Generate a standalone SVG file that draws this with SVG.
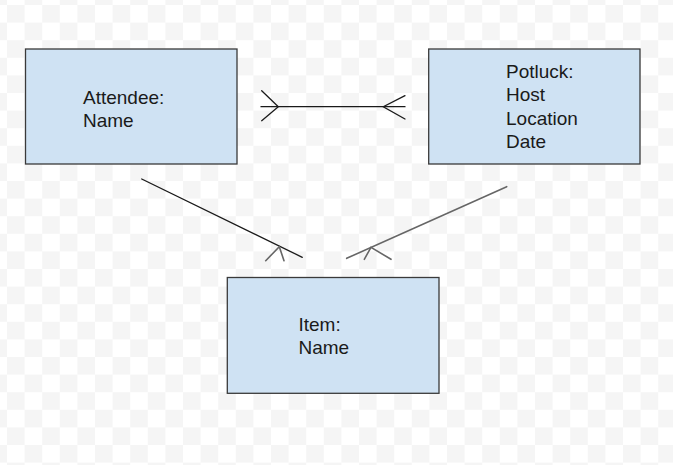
<svg xmlns="http://www.w3.org/2000/svg" width="673" height="465" viewBox="0 0 673 465">
  <defs>
    <pattern id="checker" x="7" y="5" width="35.2" height="35.2" patternUnits="userSpaceOnUse">
      <rect x="0" y="0" width="17.6" height="17.6" fill="#f5f5f5"/>
      <rect x="17.6" y="17.6" width="17.6" height="17.6" fill="#f5f5f5"/>
    </pattern>
    <style>
      .box { fill: #cfe2f3; stroke: #3a3a3a; stroke-width: 1.3; }
      .lbl { font-family: "Liberation Sans", Arial, sans-serif; font-size: 19px; fill: #1a1a1a; }
      .edge { fill: none; stroke: #1a1a1a; stroke-width: 1.3; stroke-linecap: round; }
      .edge2 { fill: none; stroke: #666666; stroke-width: 1.6; stroke-linecap: round; }
    </style>
  </defs>
  <rect x="0" y="0" width="673" height="465" fill="#ffffff"/>
  <rect x="0" y="0" width="673" height="465" fill="url(#checker)"/>

  <g id="connectors">
    <!-- Attendee - Potluck -->
    <line class="edge" x1="261" y1="106.7" x2="405" y2="106.7"/>
    <polyline class="edge" points="261.7,90.7 278.3,106.7 261.7,120.7"/>
    <polyline class="edge" points="405,95.7 383.3,106.7 405,119"/>
    <!-- Attendee - Item -->
    <line class="edge" x1="141.7" y1="179" x2="302.3" y2="257.3"/>
    <polyline class="edge2" points="265.7,260.7 279.3,246.7 284,260.7"/>
    <!-- Potluck - Item -->
    <line class="edge2" x1="506.7" y1="186.7" x2="346.7" y2="258.3"/>
    <polyline class="edge2" points="364.3,259.3 371,247.3 391,259.3"/>
  </g>

  <g id="attendee">
    <rect class="box" x="25.5" y="49" width="211.5" height="115"/>
    <text class="lbl" x="83" y="104">Attendee:</text>
    <text class="lbl" x="83" y="126.5">Name</text>
  </g>

  <g id="potluck">
    <rect class="box" x="428.7" y="49" width="211.3" height="115"/>
    <text class="lbl" x="506" y="78">Potluck:</text>
    <text class="lbl" x="506" y="101">Host</text>
    <text class="lbl" x="506" y="124.5">Location</text>
    <text class="lbl" x="506" y="148">Date</text>
  </g>

  <g id="item">
    <rect class="box" x="227.3" y="277.5" width="211.7" height="115.8"/>
    <text class="lbl" x="298.5" y="331">Item:</text>
    <text class="lbl" x="298.5" y="354.3">Name</text>
  </g>
</svg>
